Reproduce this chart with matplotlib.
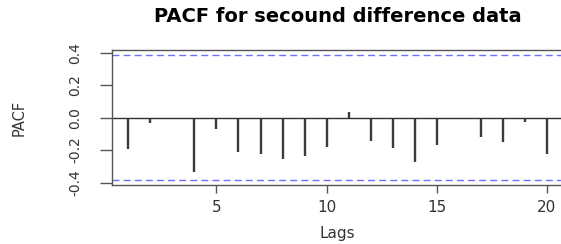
import matplotlib
matplotlib.use("Agg")
import matplotlib.pyplot as plt

plt.rcParams['font.family'] = ['DejaVu Sans']

lags = list(range(1, 21))
pacf = [-0.195, -0.035, 0.0, -0.332, -0.070, -0.209, -0.224, -0.257, -0.234, -0.178,
        0.037, -0.146, -0.187, -0.275, -0.170, 0.0, -0.117, -0.148, -0.025, -0.224]
ci = 0.387

fig = plt.figure(figsize=(5.61, 2.44), dpi=100)
ax = fig.add_axes([111.7 / 561, 59 / 244, (563.4 - 111.7) / 561, 135 / 244])

ax.vlines(lags, 0, pacf, color='#3a3a3a', lw=1.7)
ax.axhline(0, color='#303030', lw=1.0)
ax.axhline(ci, color='#7070ff', lw=1.0, ls=(0, (5, 3)))
ax.axhline(-ci, color='#7070ff', lw=1.0, ls=(0, (5, 3)))

ax.set_xlim(0.24, 20.76)
ax.set_ylim(-0.415, 0.417)
ax.set_xticks([5, 10, 15, 20])
ax.set_yticks([-0.4, -0.2, 0.0, 0.2, 0.4])
ax.set_yticklabels(['-0.4', '-0.2', '0.0', '0.2', '0.4'], rotation=90, va='center')

for s in ax.spines.values():
    s.set_color('#555555')
    s.set_linewidth(1.0)
ax.spines['right'].set_visible(False)

ax.tick_params(axis='y', length=9, width=1, color='#555555', labelsize=10, pad=12, labelcolor='#333333')
ax.tick_params(axis='x', length=6, width=1, color='#555555', labelsize=11, pad=5, labelcolor='#333333')

ax.set_xlabel('Lags', fontsize=11, color='#333333', labelpad=8)
ax.set_ylabel('PACF', fontsize=10.5, color='#333333', labelpad=30)
ax.set_title('PACF for secound difference data', fontsize=14, fontweight='bold', pad=20)

fig.savefig('out.png', dpi=100)
